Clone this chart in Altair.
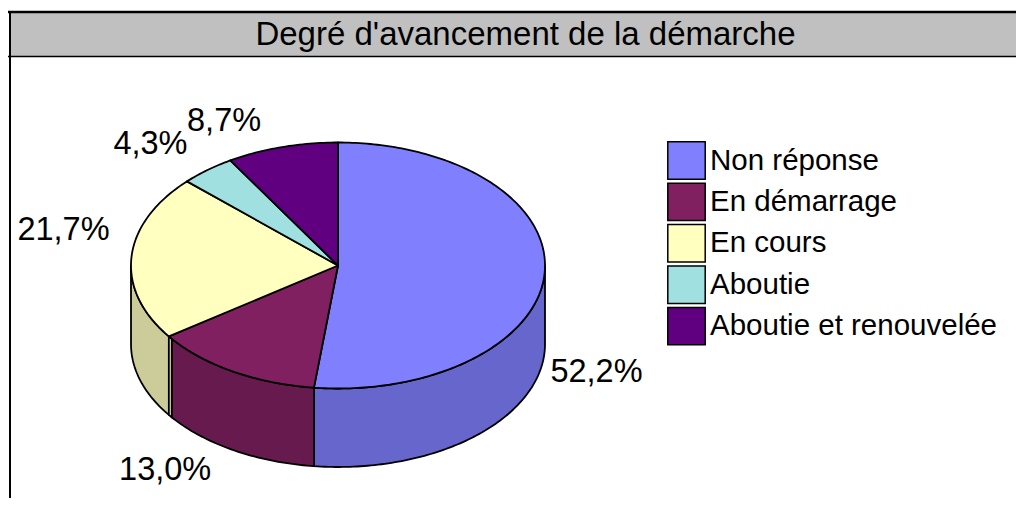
import math
import altair as alt

TITLE = "Degré d'avancement de la démarche"
CATEGORIES = ["Non réponse", "En démarrage", "En cours", "Aboutie", "Aboutie et renouvelée"]
SHARES = [52.2, 13.0, 21.7, 4.3, 8.7]
LABELS = ["52,2%", "13,0%", "21,7%", "4,3%", "8,7%"]
TOP_COLORS = ["#8080FF", "#802060", "#FFFFC0", "#A0E0E0", "#600080"]
WALL_COLORS = ["#6666CC", "#661A4D", "#CCCC9A", "#80B3B3", "#4D0066"]
CUT_COLOR = "#FFFFC0"

FONT = "Liberation Sans"
W, H = 1008, 490
CX, CY, RX, RY, DEPTH = 330, 257.5, 207, 123, 78.5
LABEL_SHIFT = [(52, 98), (-67, 99), (-68, -27), (-57, -26), (-58, -26)]


def warp(t):
    return t - 1.5 * max(0.0, math.cos(math.radians(t - 180))) ** 4


def pt(t, drop=0.0):
    a = math.radians(warp(t))
    return [CX + RX * math.sin(a), CY - RY * math.cos(a) + drop]


def arc(t0, t1):
    n = max(2, int(abs(t1 - t0)) + 1)
    return [pt(t0 + (t1 - t0) * i / n) for i in range(n + 1)]


def feature(ring, key):
    ring = ring + [ring[0]]
    return {"type": "Feature", "properties": {"key": key},
            "geometry": {"type": "Polygon", "coordinates": [ring]}}


bounds = [0.0]
for s in SHARES:
    bounds.append(bounds[-1] + s * 360 / sum(SHARES))

walls, tops, points = [], [], []
for i, cat in enumerate(CATEGORIES):
    t0, t1 = bounds[i], bounds[i + 1]
    lo, hi = max(t0, 90.0), min(t1, 270.0)
    if hi > lo:
        if cat == CATEGORIES[1]:
            hi -= 1.3
        top = arc(lo, hi)
        bottom = [[x, y + DEPTH] for x, y in reversed(top)]
        walls.append(feature(top + bottom, "wall" + str(i)))
    tops.append(feature([[CX, CY]] + arc(t0, t1), cat))
    m = pt((t0 + t1) / 2)
    points.append({"label": LABELS[i], "lon": m[0] + LABEL_SHIFT[i][0], "lat": m[1] + LABEL_SHIFT[i][1]})

# cut face of the slice next to the left front wall
cut_top = arc(bounds[2] - 1.3, bounds[2])
cut = feature(cut_top + [[x, y + DEPTH] for x, y in reversed(cut_top)], "cut")

domain = CATEGORIES + ["wall" + str(i) for i in range(5)] + ["cut"]
colors = TOP_COLORS + WALL_COLORS + [CUT_COLOR]

proj = dict(type="identity", scale=1, translate=[0, 0])

band = alt.Chart(alt.Data(values=[{"t": TITLE}])).mark_rect(
    fill="#C0C0C0", stroke=None
).encode(x=alt.value(2), x2=alt.value(W), y=alt.value(4), y2=alt.value(49))

rule_top = alt.Chart(alt.Data(values=[{"t": TITLE}])).mark_rule(color="black", strokeWidth=2.5).encode(
    x=alt.value(0), x2=alt.value(W), y=alt.value(4))
rule_mid = alt.Chart(alt.Data(values=[{"t": TITLE}])).mark_rule(color="black", strokeWidth=1.5).encode(
    x=alt.value(0), x2=alt.value(W), y=alt.value(48.5))
rule_left = alt.Chart(alt.Data(values=[{"t": TITLE}])).mark_rule(color="black", strokeWidth=2).encode(
    x=alt.value(2), y=alt.value(4), y2=alt.value(H))

title = alt.Chart(alt.Data(values=[{"t": TITLE}])).mark_text(
    font=FONT, fontSize=33, color="black", align="center", baseline="middle"
).encode(x=alt.value(517.5), y=alt.value(26.5), text="t:N")

pie = alt.Chart(alt.Data(values=walls + [cut] + tops)).mark_geoshape(
    stroke="black", strokeWidth=1.8, strokeJoin="round"
).encode(
    fill=alt.Fill(
        "properties.key:N",
        scale=alt.Scale(domain=domain, range=colors),
        legend=alt.Legend(
            values=CATEGORIES, title=None, orient="none", legendX=659, legendY=133,
            symbolType="square", symbolSize=1400, symbolStrokeColor="black",
            symbolStrokeWidth=1.5, symbolOpacity=1, rowPadding=-3.6, labelFont=FONT,
            labelFontSize=29.5, labelColor="black", labelOffset=4, labelLimit=400,
            gridAlign="none",
        ),
    )
).project(**proj)

texts = alt.Chart(alt.Data(values=points)).mark_text(
    font=FONT, fontSize=32.5, color="black", align="center", baseline="middle"
).encode(longitude="lon:Q", latitude="lat:Q", text="label:N").project(**proj)

chart = alt.layer(band, rule_top, rule_mid, rule_left, title, pie, texts).properties(
    width=W, height=H, padding=0, background="white",
    autosize=alt.AutoSizeParams(type="none", contains="content"),
).configure_view(stroke=None)

chart.save("out.html", embed_options={"renderer": "svg", "actions": False})
